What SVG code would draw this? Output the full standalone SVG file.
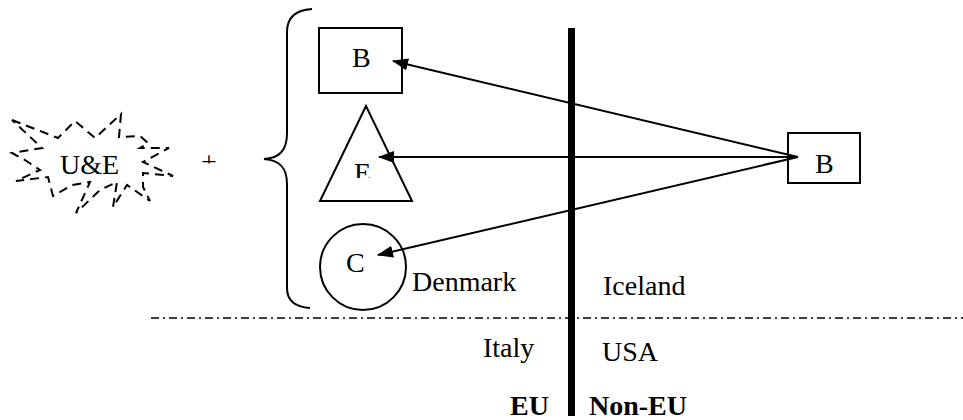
<svg xmlns="http://www.w3.org/2000/svg" width="963" height="420" viewBox="0 0 963 420">
<style>
text{font-family:"Liberation Serif","Times New Roman",serif;font-size:28px;fill:#000}
.b{font-weight:bold}
.sh{fill:none;stroke:#000;stroke-width:2}
.cn{stroke:#000;stroke-width:2;fill:none}
</style>
<defs>
<marker id="ah" markerWidth="16" markerHeight="12" refX="15" refY="6" orient="auto" markerUnits="userSpaceOnUse">
<path d="M0,0 L16,6 L0,12 Z" fill="#000"/>
</marker>
<clipPath id="ce"><rect x="340" y="150" width="50" height="28"/></clipPath>
<clipPath id="cp"><rect x="195" y="140" width="30" height="23.5"/></clipPath>
</defs>
<rect width="963" height="420" fill="#fff"/>
<g id="divider">
<line x1="151" y1="318" x2="963" y2="318" stroke="#000" stroke-width="1.5" stroke-dasharray="8,4,2,4"/>
<rect x="568" y="28" width="7" height="388" fill="#000"/>
</g>
<g id="ue">
<polygon class="sh" stroke-width="2.6" stroke-dasharray="9,6" points="12,120 58,138 75,121 95,138 121,114 119,137 140,136 148,143 140,148 169,148 143,162 173,176 143,173 143,187 150,201 127,185 113,207 117,182 100,190 76,213 90,182 72,185 53,196 48,177 16,181 40,170 25,160 12,153 42,148"/>
<text x="60" y="174">U&amp;E</text>
</g>
<g id="plus"><text x="201" y="171" clip-path="url(#cp)">+</text></g>
<g id="brace"><path class="sh" d="M312,9 C295,10 287,18 287,32 L287,133 C287,150 280,158 264,159 C280,160 287,168 287,184 L287,288 C287,300 295,307 310,308"/></g>
<g id="nodeB1"><rect class="sh" x="319" y="28" width="83" height="65"/><text x="352" y="67">B</text></g>
<g id="nodeE"><polygon class="sh" points="366,106 320,201 412,201"/><text x="354" y="182" clip-path="url(#ce)">E</text></g>
<g id="nodeC"><circle class="sh" cx="363" cy="267" r="43"/><text x="346" y="272">C</text></g>
<g id="nodeB2"><rect class="sh" x="788" y="133" width="72" height="50"/><text x="815" y="173">B</text></g>
<g id="labels">
<text x="412" y="291">Denmark</text>
<text x="603" y="295">Iceland</text>
<text x="483" y="357">Italy</text>
<text x="602" y="361">USA</text>
<text class="b" x="510" y="415">EU</text>
<text class="b" x="589" y="415">Non-EU</text>
</g>
<g id="connectors">
<line class="cn" x1="798" y1="157" x2="393" y2="61" marker-end="url(#ah)"/>
<line class="cn" x1="798" y1="157" x2="379" y2="157" marker-end="url(#ah)"/>
<line class="cn" x1="798" y1="157" x2="378" y2="255" marker-end="url(#ah)"/>
</g>
</svg>
